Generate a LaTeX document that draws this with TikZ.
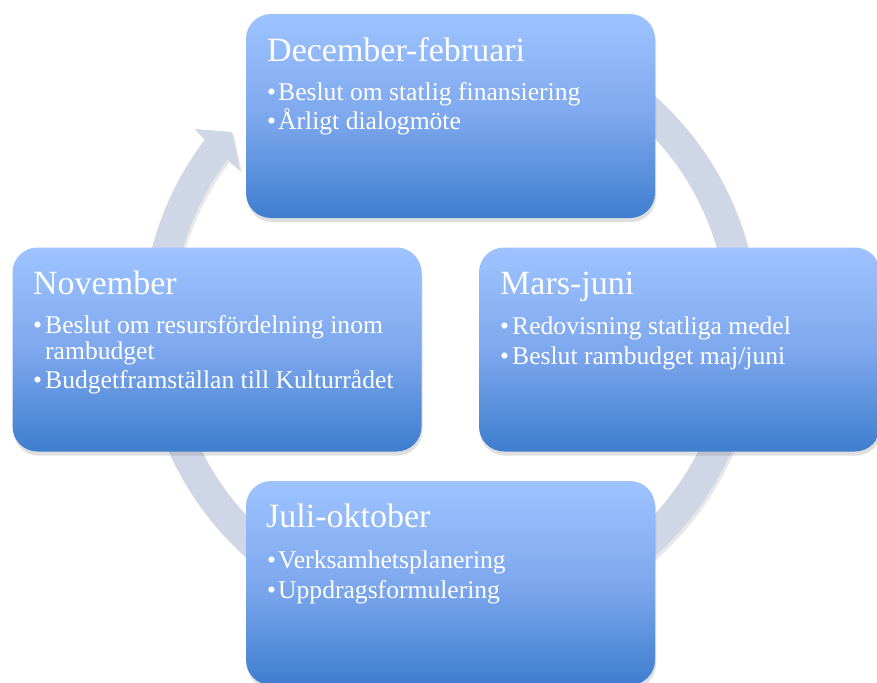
\documentclass[tikz,border=0pt]{standalone}
\usepackage{fontspec}
\setmainfont{Liberation Serif}
\usetikzlibrary{shadows,calc}
\definecolor{boxtop}{RGB}{158,195,255}
\definecolor{boxmid}{RGB}{126,168,238}
\definecolor{boxbot}{RGB}{62,126,206}
\definecolor{ringc}{RGB}{207,214,230}
\tikzset{
  card/.style={rounded corners=25pt, draw=none, top color=boxtop, bottom color=boxbot, middle color=boxmid,
    minimum width=409pt, minimum height=204pt, inner sep=0pt,
    drop shadow={shadow xshift=1pt, shadow yshift=-4pt, opacity=0.25}},
  ttl/.style={anchor=base west, text=white, font=\fontsize{34}{40}\selectfont, inner sep=0pt},
  itm/.style={anchor=base west, text=white, font=\fontsize{25.6}{30}\selectfont, inner sep=0pt},
  ringstyle/.style={fill=ringc, drop shadow={shadow xshift=2pt, shadow yshift=-3pt, opacity=0.18}},
}
\begin{document}
\begin{tikzpicture}[x=1pt,y=-1pt]
\useasboundingbox (0,0) rectangle (877,682);
\clip (0,0) rectangle (877,682);
\fill[white] (0,0) rectangle (877,682);
\coordinate (C) at (450,326);
\coordinate (wA) at (195,129);
\coordinate (tip) at (232,132);
\coordinate (wB) at (240,170);
\path[ringstyle] ($(C)+(250:308)$) arc[start angle=250,end angle=577.3,radius=308]
  -- (wA) -- (tip) -- (wB) -- ($(C)+(576.8:278)$)
  arc[start angle=576.8,end angle=250,radius=278] -- cycle;
% boxes
\node[card] (dec) at (450.5,116) {};
\node[card] (nov) at (217,349.5) {};
\node[card, minimum width=401pt] (mar) at (679.5,349.5) {};
\node[card] (jul) at (450.5,583) {};
% December-februari
\node[ttl] (decT) at (267,62) {December-februari};
\node[itm] (decB1) at (267,101) {•};
\node[itm] (decL1) at (278,101) {Beslut om statlig finansiering};
\node[itm] (decB2) at (267,129) {•};
\node[itm] (decL2) at (278,129) {Årligt dialogmöte};
% November
\node[ttl] (novT) at (33,294) {November};
\node[itm] (novB1) at (33,333) {•};
\node[itm] (novL1) at (45,333) {Beslut om resursfördelning inom};
\node[itm] (novL1b) at (45,359) {rambudget};
\node[itm] (novB2) at (33,388) {•};
\node[itm] (novL2) at (45,388) {Budgetframställan till Kulturrådet};
% Mars-juni
\node[ttl] (marT) at (500,294) {Mars-juni};
\node[itm] (marB1) at (500,334) {•};
\node[itm] (marL1) at (512,334) {Redovisning statliga medel};
\node[itm] (marB2) at (500,364) {•};
\node[itm] (marL2) at (512,364) {Beslut rambudget maj/juni};
% Juli-oktober
\node[ttl] (julT) at (266,527) {Juli-oktober};
\node[itm] (julB1) at (267,568) {•};
\node[itm] (julL1) at (278,568) {Verksamhetsplanering};
\node[itm] (julB2) at (267,598) {•};
\node[itm] (julL2) at (278,598) {Uppdragsformulering};
\end{tikzpicture}
\end{document}
